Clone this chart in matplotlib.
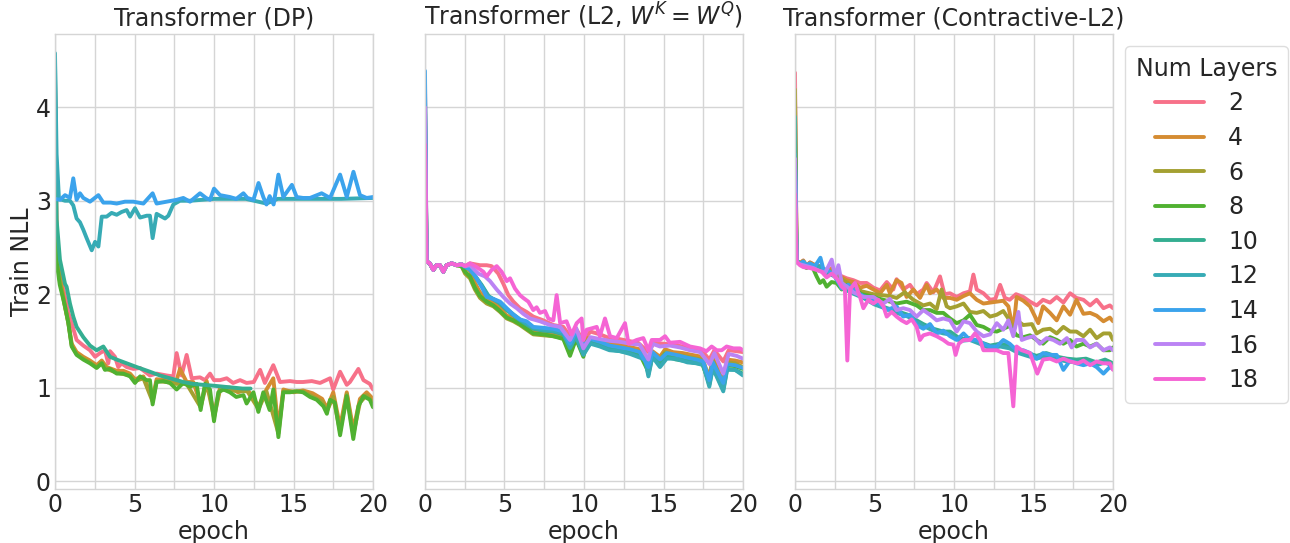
import numpy as np
import matplotlib
matplotlib.use("Agg")
import matplotlib.pyplot as plt
from matplotlib.ticker import MultipleLocator
import seaborn as sns

# ---------------- data (epoch, train NLL) ----------------
layers = [2, 4, 6, 8, 10, 12, 14, 16, 18]
titles = ["Transformer (DP)", r"Transformer (L2, $W^K = W^Q$)", "Transformer (Contractive-L2)"]

# Panel 1: Transformer (DP)
dp_2 = [[0,4.30],[0.1,2.6],[0.3,2.25],[0.63,1.97],[0.73,1.90],[0.84,1.80],[1.05,1.69],[1.36,1.51],[1.78,1.45],[2.2,1.40],[2.52,1.33],[2.83,1.37],[3.14,1.40],[3.35,1.26],[3.46,1.39],[3.77,1.33],[3.98,1.22],[4.19,1.26],[4.51,1.22],[4.93,1.20],[5.35,1.21],[5.97,1.13],[6.39,1.15],[7.02,1.13],[7.44,1.12],[7.65,1.37],[7.96,1.13],[8.28,1.35],[8.6,1.10],[9.12,1.11],[9.43,1.08],[9.75,1.15],[10.0,1.08],[10.38,1.08],[10.8,1.10],[11.2,1.05],[11.64,1.08],[12.05,1.05],[12.5,1.06],[12.9,1.19],[13.2,1.05],[13.73,1.24],[14.15,1.06],[14.78,1.07],[15.2,1.06],[15.6,1.06],[16.15,1.07],[16.67,1.05],[17.3,1.10],[17.5,0.98],[17.93,1.17],[18.35,1.03],[18.55,1.06],[19.08,1.20],[19.4,1.08],[19.8,1.04],[20,0.98]]
dp_4 = [[0,4.37],[0.1,2.45],[0.3,2.2],[0.63,1.87],[0.84,1.70],[1.05,1.47],[1.36,1.38],[1.78,1.33],[2.2,1.29],[2.62,1.24],[2.94,1.29],[3.25,1.22],[3.88,1.18],[4.3,1.18],[4.72,1.15],[5.03,1.09],[5.56,1.12],[6.14,0.88],[6.39,1.09],[7.02,1.08],[7.65,1.08],[7.86,1.20],[8.28,1.06],[8.7,1.06],[9.16,0.82],[9.54,1.07],[10.0,0.72],[10.38,1.00],[11.0,1.00],[11.5,0.95],[12.1,0.98],[12.8,0.80],[13.3,0.98],[13.73,1.10],[14.05,0.56],[14.36,0.98],[15.0,0.95],[15.6,0.97],[16.2,0.94],[16.8,0.88],[17.1,0.78],[17.5,0.95],[17.93,0.58],[18.35,0.95],[18.76,0.55],[19.18,0.88],[19.6,0.95],[20,0.88]]
dp_6 = [[0,4.20],[0.1,2.40],[0.3,2.15],[0.63,1.86],[0.84,1.69],[1.05,1.45],[1.36,1.36],[1.78,1.31],[2.2,1.27],[2.62,1.22],[2.94,1.27],[3.25,1.20],[3.88,1.16],[4.72,1.13],[5.03,1.07],[5.56,1.10],[6.14,0.85],[6.39,1.07],[7.02,1.06],[7.65,1.04],[8.28,1.04],[9.16,0.79],[9.54,1.05],[10.0,0.68],[10.38,0.98],[11.0,0.97],[12.1,0.96],[12.8,0.77],[13.3,0.96],[14.05,0.51],[14.36,0.96],[15.6,0.96],[16.8,0.85],[17.1,0.75],[17.5,0.90],[17.93,0.53],[18.35,0.93],[18.76,0.50],[19.18,0.84],[19.6,0.92],[20,0.84]]
dp_8 = [[0,3.69],[0.1,2.35],[0.3,2.1],[0.63,1.87],[0.84,1.69],[1.05,1.44],[1.36,1.35],[1.78,1.30],[2.2,1.26],[2.62,1.21],[2.94,1.26],[3.14,1.19],[3.46,1.20],[3.88,1.15],[4.3,1.15],[4.72,1.12],[5.03,1.05],[5.35,1.12],[5.77,1.08],[5.97,1.08],[6.14,0.82],[6.39,1.06],[6.81,1.07],[7.23,1.05],[7.65,0.98],[8.07,1.05],[8.49,1.01],[8.91,1.04],[9.16,0.76],[9.43,1.04],[9.75,0.98],[10.0,0.64],[10.27,0.95],[10.6,0.98],[11.0,0.95],[11.4,0.90],[11.85,0.92],[12.05,0.83],[12.48,0.95],[12.79,0.74],[13.1,0.95],[13.5,0.76],[13.73,0.98],[14.05,0.47],[14.36,0.95],[14.78,0.95],[15.2,0.96],[15.6,0.95],[16.04,0.90],[16.46,0.87],[16.88,0.80],[17.1,0.72],[17.3,0.87],[17.6,0.84],[17.93,0.49],[18.35,0.91],[18.76,0.45],[19.08,0.80],[19.4,0.91],[19.8,0.87],[20,0.79]]
dp_10 = [[0,4.50],[0.1,2.8],[0.31,2.37],[0.63,2.11],[0.73,2.08],[0.94,1.90],[1.15,1.76],[1.36,1.65],[1.78,1.54],[2.2,1.45],[2.62,1.40],[3.04,1.44],[3.46,1.33],[3.88,1.30],[4.51,1.26],[5.14,1.22],[5.97,1.17],[6.6,1.13],[7.23,1.10],[8.07,1.06],[8.7,1.04],[9.3,1.03],[10.0,1.02],[10.6,1.01],[11.2,1.00],[11.8,0.99],[12.3,0.99]]
dp_12 = [[0,4.58],[0.1,3.5],[0.25,3.02],[0.63,3.0],[0.94,3.0],[1.15,2.95],[1.36,2.81],[1.57,2.77],[1.78,2.69],[1.99,2.60],[2.31,2.47],[2.52,2.56],[2.73,2.51],[2.94,2.83],[3.25,2.83],[3.56,2.87],[3.88,2.85],[4.19,2.88],[4.51,2.90],[4.72,2.83],[5.03,2.92],[5.35,2.82],[5.77,2.84],[5.97,2.84],[6.14,2.60],[6.39,2.86],[6.92,2.81],[7.13,2.84],[7.44,2.96],[7.86,3.00],[8.5,3.00],[10,3.02],[12,3.02],[13.3,2.97],[14,3.02],[16,3.02],[18,3.02],[20,3.03]]
dp_14 = [[0,3.02],[0.31,3.01],[0.63,3.06],[0.94,3.03],[1.15,3.24],[1.36,3.01],[1.57,3.08],[1.78,3.03],[2.2,2.99],[2.73,3.06],[3.04,2.98],[3.5,2.98],[3.88,2.97],[4.4,2.99],[4.93,2.99],[5.56,2.97],[6.14,3.08],[6.39,2.97],[7.02,2.99],[7.65,3.01],[8.07,3.03],[8.49,2.99],[9.12,3.08],[9.5,3.03],[9.75,3.01],[10.0,3.13],[10.38,3.06],[11.0,3.04],[11.4,3.02],[11.85,3.08],[12.1,3.03],[12.48,3.01],[12.8,3.19],[13.1,3.04],[13.3,2.96],[13.5,3.05],[13.75,2.96],[14.05,3.28],[14.36,3.04],[14.9,3.17],[15.2,3.04],[15.6,3.03],[16.04,3.03],[16.77,3.08],[17.3,3.03],[17.93,3.28],[18.35,3.04],[18.77,3.31],[19.18,3.06],[19.6,3.03],[20,3.04]]

# Panel 2: Transformer (L2, W^K = W^Q)
l2_2 = [[0,4.30],[0.1,2.35],[0.3,2.33],[0.52,2.26],[0.73,2.31],[0.94,2.31],[1.15,2.24],[1.36,2.31],[1.68,2.33],[1.99,2.31],[2.3,2.32],[2.52,2.30],[2.83,2.33],[3.46,2.31],[3.88,2.31],[4.19,2.30],[4.61,2.22],[4.93,2.11],[5.24,1.99],[5.56,1.92],[5.97,1.85],[6.39,1.81],[6.81,1.76],[7.44,1.72],[8.07,1.67],[8.7,1.65],[9.12,1.55],[9.5,1.63],[9.96,1.50],[10.4,1.60],[11.0,1.57],[11.6,1.53],[12.2,1.52],[12.8,1.50],[13.4,1.48],[14.05,1.38],[14.4,1.48],[15.0,1.47],[15.6,1.46],[16.2,1.44],[16.8,1.42],[17.4,1.40],[17.88,1.30],[18.2,1.40],[18.76,1.28],[19.1,1.40],[19.6,1.39],[20,1.38]]
l2_4 = [[0,4.10],[0.1,2.35],[0.3,2.33],[0.52,2.26],[0.73,2.31],[0.94,2.31],[1.15,2.24],[1.36,2.31],[1.68,2.33],[1.99,2.31],[2.3,2.32],[2.52,2.28],[2.83,2.25],[3.14,2.12],[3.46,2.02],[3.88,1.95],[4.3,1.92],[4.72,1.86],[5.14,1.77],[5.56,1.75],[5.97,1.70],[6.39,1.66],[6.81,1.61],[7.44,1.60],[8.07,1.58],[8.7,1.56],[9.12,1.40],[9.5,1.56],[9.96,1.39],[10.2,1.53],[10.6,1.51],[11.0,1.49],[11.5,1.48],[12.0,1.46],[12.5,1.45],[13.0,1.43],[13.5,1.41],[14.05,1.23],[14.3,1.39],[14.78,1.33],[15.1,1.41],[15.6,1.38],[16.2,1.37],[16.8,1.35],[17.4,1.33],[17.88,1.11],[18.1,1.32],[18.76,1.06],[19.0,1.30],[19.5,1.29],[20,1.27]]
l2_6 = [[0,3.90],[0.1,2.35],[0.3,2.33],[0.52,2.26],[0.73,2.31],[0.94,2.31],[1.15,2.24],[1.36,2.31],[1.68,2.33],[1.99,2.31],[2.3,2.30],[2.52,2.22],[2.83,2.17],[3.14,2.05],[3.46,1.96],[3.88,1.90],[4.3,1.87],[4.72,1.81],[5.14,1.74],[5.56,1.71],[5.97,1.67],[6.39,1.62],[6.81,1.57],[7.44,1.56],[8.07,1.55],[8.7,1.53],[9.12,1.37],[9.5,1.53],[9.96,1.36],[10.2,1.50],[10.6,1.48],[11.0,1.46],[11.5,1.45],[12.0,1.43],[12.5,1.42],[13.0,1.40],[13.5,1.38],[14.05,1.20],[14.3,1.36],[14.78,1.30],[15.1,1.38],[15.6,1.35],[16.2,1.34],[16.8,1.32],[17.4,1.30],[17.88,1.08],[18.1,1.29],[18.76,1.03],[19.0,1.27],[19.5,1.26],[20,1.22]]
l2_8 = [[0,3.80],[0.1,2.35],[0.3,2.33],[0.52,2.26],[0.73,2.31],[0.94,2.31],[1.15,2.24],[1.36,2.31],[1.68,2.33],[1.99,2.31],[2.3,2.30],[2.52,2.24],[2.83,2.19],[3.14,2.07],[3.46,1.98],[3.88,1.92],[4.3,1.88],[4.72,1.82],[5.14,1.75],[5.56,1.72],[5.97,1.68],[6.39,1.63],[6.81,1.58],[7.44,1.57],[8.07,1.55],[8.7,1.52],[9.12,1.34],[9.5,1.52],[9.96,1.33],[10.2,1.49],[10.6,1.47],[11.0,1.45],[11.5,1.44],[12.0,1.42],[12.5,1.40],[13.0,1.38],[13.5,1.36],[14.05,1.17],[14.3,1.34],[14.78,1.28],[15.1,1.36],[15.6,1.33],[16.2,1.31],[16.8,1.29],[17.4,1.27],[17.88,1.05],[18.1,1.26],[18.76,1.00],[19.0,1.24],[19.5,1.23],[20,1.20]]
l2_10 = [[0,4.00],[0.1,2.35],[0.3,2.33],[0.52,2.26],[0.73,2.31],[0.94,2.31],[1.15,2.24],[1.36,2.31],[1.68,2.33],[1.99,2.31],[2.3,2.32],[2.52,2.29],[2.83,2.27],[3.56,2.10],[4.0,1.98],[4.72,1.90],[5.14,1.83],[5.97,1.72],[6.81,1.63],[7.44,1.61],[8.07,1.60],[8.7,1.57],[9.12,1.42],[9.5,1.55],[9.96,1.36],[10.4,1.48],[11.0,1.45],[11.6,1.41],[12.27,1.39],[12.9,1.37],[13.84,1.31],[14.05,1.14],[14.3,1.34],[14.78,1.24],[15.2,1.33],[15.8,1.30],[16.5,1.28],[17.1,1.26],[17.5,1.25],[17.88,1.03],[18.1,1.22],[18.76,0.98],[19.0,1.20],[19.5,1.19],[20,1.15]]
l2_12 = [[0,4.20],[0.1,2.35],[0.3,2.33],[0.52,2.26],[0.73,2.31],[0.94,2.31],[1.15,2.24],[1.36,2.31],[1.68,2.33],[1.99,2.31],[2.3,2.32],[2.52,2.29],[2.83,2.27],[3.56,2.09],[4.0,1.97],[4.72,1.91],[5.14,1.84],[5.97,1.73],[6.81,1.64],[7.44,1.62],[8.07,1.61],[8.7,1.58],[9.12,1.43],[9.5,1.55],[9.96,1.35],[10.4,1.47],[11.0,1.44],[11.6,1.40],[12.27,1.39],[12.9,1.36],[13.84,1.30],[14.05,1.12],[14.3,1.33],[14.78,1.22],[15.2,1.31],[15.8,1.31],[16.5,1.27],[17.1,1.26],[17.5,1.24],[17.88,1.01],[18.1,1.21],[18.76,0.96],[19.0,1.19],[19.5,1.19],[20,1.13]]
l2_14 = [[0,4.39],[0.1,2.35],[0.3,2.33],[0.52,2.26],[0.73,2.31],[0.94,2.31],[1.15,2.24],[1.36,2.31],[1.68,2.33],[1.99,2.31],[2.3,2.32],[2.52,2.30],[2.83,2.26],[3.14,2.20],[3.56,2.08],[3.88,1.97],[4.3,1.95],[4.72,1.92],[5.14,1.85],[5.56,1.78],[5.97,1.73],[6.39,1.71],[6.81,1.65],[7.44,1.64],[8.07,1.63],[8.7,1.60],[9.12,1.47],[9.5,1.60],[9.96,1.45],[10.4,1.52],[11.0,1.49],[11.6,1.45],[12.27,1.43],[12.9,1.41],[13.5,1.38],[14.05,1.22],[14.3,1.38],[14.78,1.30],[15.2,1.37],[15.8,1.35],[16.5,1.32],[17.1,1.30],[17.5,1.28],[17.88,1.08],[18.1,1.27],[18.76,1.05],[19.0,1.25],[19.5,1.24],[20,1.21]]
l2_16 = [[0,4.00],[0.1,2.35],[0.3,2.33],[0.52,2.26],[0.73,2.31],[0.94,2.31],[1.15,2.24],[1.36,2.31],[1.68,2.33],[1.99,2.31],[2.3,2.32],[2.52,2.30],[2.83,2.31],[3.35,2.22],[3.77,2.19],[4.09,2.14],[4.51,2.05],[4.93,1.97],[5.35,1.90],[5.77,1.85],[6.18,1.79],[6.6,1.74],[7.23,1.71],[7.86,1.67],[8.5,1.65],[9.12,1.51],[9.5,1.64],[9.96,1.42],[10.4,1.54],[11.0,1.52],[11.64,1.50],[12.27,1.49],[12.9,1.47],[13.5,1.46],[14.05,1.30],[14.3,1.47],[14.78,1.44],[15.4,1.45],[16.04,1.43],[16.67,1.40],[17.3,1.38],[17.9,1.25],[18.2,1.37],[18.76,1.15],[19.1,1.36],[19.6,1.34],[20,1.31]]
l2_18 = [[0,3.60],[0.1,2.35],[0.3,2.33],[0.52,2.26],[0.73,2.31],[0.94,2.31],[1.15,2.24],[1.36,2.31],[1.68,2.33],[1.99,2.31],[2.3,2.32],[2.52,2.30],[2.83,2.33],[3.25,2.29],[3.67,2.24],[3.88,2.19],[4.19,2.26],[4.51,2.30],[4.82,2.24],[5.14,2.14],[5.35,2.17],[5.66,2.06],[5.97,1.99],[6.18,1.96],[6.5,1.92],[6.81,1.83],[7.02,1.86],[7.23,1.80],[7.55,1.82],[7.76,1.74],[8.07,1.72],[8.28,1.99],[8.5,1.69],[8.9,1.71],[9.22,1.57],[9.54,1.69],[9.85,1.74],[9.96,1.51],[10.17,1.62],[10.6,1.64],[10.8,1.65],[11.0,1.55],[11.32,1.74],[11.64,1.55],[12.06,1.53],[12.58,1.69],[12.8,1.47],[13.31,1.51],[13.73,1.53],[14.05,1.40],[14.26,1.51],[14.78,1.51],[15.1,1.55],[15.4,1.48],[16.04,1.49],[16.67,1.44],[17.3,1.42],[17.7,1.39],[18.03,1.44],[18.35,1.40],[18.66,1.40],[18.97,1.44],[19.4,1.42],[19.81,1.42],[20,1.40]]

# Panel 3: Transformer (Contractive-L2)
c_2 = [[0,4.37],[0.1,2.36],[0.31,2.33],[0.52,2.36],[0.73,2.30],[0.94,2.34],[1.26,2.31],[1.57,2.30],[1.99,2.25],[2.3,2.28],[2.62,2.22],[2.83,2.20],[3.25,2.17],[3.67,2.15],[4.09,2.12],[4.51,2.12],[4.93,2.07],[5.35,2.04],[5.77,2.13],[6.18,2.05],[6.39,2.16],[6.81,2.05],[7.23,2.10],[7.65,2.00],[8.07,2.05],[8.28,2.12],[8.7,2.02],[9.12,2.19],[9.4,2.00],[9.75,2.01],[10.17,1.97],[10.6,2.01],[11.0,2.03],[11.22,2.21],[11.43,2.05],[11.85,2.01],[12.27,1.94],[12.6,1.95],[12.9,2.10],[13.2,1.96],[13.5,1.94],[13.9,2.00],[14.36,1.97],[14.78,1.92],[15.2,1.88],[15.6,1.94],[16.04,1.91],[16.46,1.97],[16.88,1.91],[17.3,2.01],[17.7,1.96],[18.14,1.94],[18.56,1.88],[18.97,1.94],[19.4,1.85],[19.8,1.88],[20,1.85]]
c_4 = [[0,4.10],[0.1,2.36],[0.31,2.33],[0.52,2.36],[0.73,2.30],[0.94,2.34],[1.26,2.31],[1.57,2.28],[1.99,2.24],[2.3,2.27],[2.62,2.21],[2.83,2.19],[3.25,2.15],[3.67,2.13],[4.09,2.07],[4.51,2.09],[4.93,2.05],[5.35,2.01],[5.77,2.10],[5.97,2.01],[6.39,2.15],[6.7,2.12],[7.02,1.97],[7.44,2.05],[7.86,1.96],[8.28,2.10],[8.49,2.01],[8.91,2.05],[9.33,1.96],[9.75,1.96],[10.17,1.94],[10.6,1.98],[11.0,2.01],[11.43,1.94],[11.85,1.90],[12.27,1.91],[12.69,1.92],[13.1,1.93],[13.42,1.87],[13.73,1.61],[13.94,1.97],[14.36,1.93],[14.78,1.87],[15.3,1.69],[15.6,1.87],[16.04,1.80],[16.46,1.72],[16.88,1.87],[17.3,1.78],[17.7,1.94],[18.14,1.79],[18.56,1.80],[18.97,1.77],[19.4,1.71],[19.8,1.75],[20,1.71]]
c_6 = [[0,4.19],[0.1,2.36],[0.31,2.33],[0.52,2.35],[0.73,2.30],[0.94,2.33],[1.26,2.30],[1.57,2.26],[1.99,2.22],[2.3,2.25],[2.62,2.20],[2.83,2.17],[3.5,2.10],[4.2,2.03],[4.93,2.00],[5.97,1.98],[6.39,1.96],[6.9,2.02],[7.44,1.94],[8.07,1.88],[8.49,1.90],[8.91,1.84],[9.22,2.05],[9.54,1.87],[9.75,1.85],[10.17,1.87],[10.6,1.90],[11.0,1.81],[11.43,1.80],[11.85,1.82],[12.27,1.76],[12.69,1.78],[13.1,1.82],[13.42,1.74],[13.73,1.61],[13.94,1.72],[14.36,1.67],[14.9,1.68],[15.2,1.58],[15.6,1.62],[16.04,1.63],[16.46,1.58],[16.88,1.65],[17.3,1.60],[17.7,1.60],[18.14,1.55],[18.56,1.62],[18.97,1.53],[19.4,1.58],[19.8,1.58],[20,1.51]]
c_8 = [[0,3.67],[0.1,2.35],[0.31,2.33],[0.52,2.30],[0.73,2.28],[0.94,2.31],[1.15,2.27],[1.36,2.19],[1.57,2.12],[1.78,2.15],[1.99,2.08],[2.3,2.13],[2.62,2.12],[2.94,2.05],[3.25,2.10],[3.67,2.06],[4.19,2.00],[4.72,1.98],[5.56,1.94],[6.39,1.90],[7.02,1.92],[7.65,1.88],[8.07,1.83],[8.49,1.83],[8.91,1.80],[9.33,1.80],[9.75,1.74],[10.17,1.69],[10.6,1.72],[11.0,1.78],[11.43,1.67],[11.85,1.65],[12.27,1.61],[12.69,1.60],[13.1,1.63],[13.5,1.66],[13.94,1.56],[14.36,1.54],[14.78,1.56],[15.2,1.51],[15.6,1.47],[16.04,1.54],[16.46,1.51],[16.88,1.47],[17.3,1.51],[17.7,1.44],[18.14,1.47],[18.56,1.44],[18.97,1.47],[19.4,1.40],[19.8,1.40],[20,1.43]]
c_10 = [[0,3.90],[0.1,2.35],[0.31,2.33],[0.52,2.34],[0.73,2.30],[0.94,2.32],[1.26,2.29],[1.6,2.30],[1.99,2.24],[2.5,2.20],[2.94,2.08],[3.6,2.02],[4.3,1.97],[5.0,1.90],[5.8,1.85],[6.39,1.82],[7.1,1.78],[7.65,1.72],[8.07,1.68],[8.7,1.63],[9.33,1.60],[9.75,1.60],[10.4,1.52],[11.0,1.53],[11.6,1.49],[12.27,1.45],[12.9,1.47],[13.5,1.45],[14.05,1.40],[14.6,1.37],[15.2,1.34],[15.8,1.37],[16.5,1.33],[17.1,1.31],[17.7,1.30],[18.3,1.31],[18.97,1.27],[19.5,1.30],[20,1.26]]
c_12 = [[0,3.50],[0.1,2.35],[0.31,2.33],[0.52,2.34],[0.73,2.30],[0.94,2.32],[1.26,2.29],[1.6,2.29],[1.99,2.23],[2.5,2.19],[2.94,2.07],[3.6,2.01],[4.3,1.96],[5.0,1.89],[5.8,1.84],[6.39,1.80],[7.1,1.76],[7.65,1.70],[8.07,1.66],[8.7,1.61],[9.33,1.58],[9.75,1.57],[10.4,1.50],[11.0,1.51],[11.6,1.47],[12.27,1.42],[12.9,1.44],[13.5,1.42],[14.05,1.37],[14.6,1.34],[15.2,1.31],[15.8,1.34],[16.5,1.30],[17.1,1.28],[17.7,1.27],[18.3,1.28],[18.97,1.24],[19.5,1.27],[20,1.23]]
c_14 = [[0,3.40],[0.1,2.36],[0.31,2.32],[0.52,2.35],[0.73,2.31],[0.94,2.33],[1.26,2.30],[1.6,2.39],[1.78,2.27],[2.1,2.25],[2.5,2.20],[2.94,2.06],[3.35,2.10],[3.88,2.02],[4.3,1.98],[4.72,1.96],[5.14,1.92],[5.77,1.83],[6.39,1.87],[6.8,1.76],[7.23,1.78],[7.65,1.67],[8.07,1.63],[8.49,1.68],[8.91,1.58],[9.33,1.61],[9.75,1.55],[10.17,1.51],[10.6,1.58],[11.0,1.51],[11.43,1.51],[11.85,1.47],[12.27,1.44],[12.69,1.44],[13.1,1.51],[13.5,1.47],[13.94,1.40],[14.36,1.40],[14.78,1.37],[15.2,1.31],[15.6,1.37],[16.04,1.35],[16.46,1.35],[16.88,1.19],[17.3,1.29],[17.7,1.26],[18.14,1.24],[18.56,1.26],[18.97,1.22],[19.4,1.15],[19.8,1.22],[20,1.20]]
c_16 = [[0,3.45],[0.1,2.34],[0.31,2.32],[0.73,2.30],[1.15,2.28],[1.5,2.25],[1.9,2.23],[2.31,2.37],[2.52,2.18],[2.73,2.31],[2.94,2.12],[3.35,2.07],[3.67,2.02],[4.3,1.97],[4.93,1.97],[5.56,1.90],[5.97,1.95],[6.39,1.83],[6.81,1.85],[7.23,1.83],[7.65,1.76],[8.07,1.83],[8.49,1.78],[8.91,1.72],[9.33,1.74],[9.75,1.72],[10.17,1.60],[10.6,1.71],[11.0,1.69],[11.43,1.60],[11.85,1.55],[12.27,1.57],[12.69,1.69],[13.1,1.62],[13.42,1.72],[13.73,1.55],[14.05,1.81],[14.26,1.51],[14.57,1.53],[14.99,1.55],[15.4,1.47],[15.83,1.53],[16.25,1.51],[16.67,1.47],[17.1,1.53],[17.4,1.43],[17.7,1.51],[18.14,1.51],[18.56,1.43],[18.97,1.47],[19.4,1.40],[19.8,1.43],[20,1.40]]
c_18 = [[0,3.07],[0.1,2.35],[0.31,2.31],[0.52,2.29],[0.94,2.28],[1.36,2.26],[1.68,2.24],[1.99,2.18],[2.31,2.22],[2.62,2.17],[2.94,2.08],[3.14,2.05],[3.29,1.29],[3.46,2.05],[3.77,2.12],[4.09,1.97],[4.3,1.85],[4.61,1.94],[4.93,1.90],[5.24,1.94],[5.56,1.87],[5.77,1.76],[6.08,1.81],[6.39,1.76],[6.7,1.72],[7.02,1.69],[7.34,1.73],[7.65,1.65],[7.86,1.51],[8.07,1.56],[8.49,1.58],[8.91,1.55],[9.33,1.51],[9.65,1.47],[9.96,1.46],[10.1,1.35],[10.3,1.47],[10.6,1.51],[11.0,1.51],[11.32,1.58],[11.64,1.51],[11.85,1.40],[12.27,1.40],[12.69,1.40],[13.1,1.37],[13.42,1.37],[13.73,0.80],[13.94,1.44],[14.26,1.40],[14.78,1.37],[15.24,1.15],[15.6,1.30],[16.04,1.31],[16.46,1.28],[16.88,1.31],[17.3,1.28],[17.8,1.26],[18.14,1.29],[18.56,1.24],[18.97,1.28],[19.4,1.26],[19.8,1.26],[20,1.19]]

panel_series = [
    {2: dp_2, 4: dp_4, 6: dp_6, 8: dp_8, 10: dp_10, 12: dp_12, 14: dp_14},
    {2: l2_2, 4: l2_4, 6: l2_6, 8: l2_8, 10: l2_10, 12: l2_12, 14: l2_14, 16: l2_16, 18: l2_18},
    {2: c_2, 4: c_4, 6: c_6, 8: c_8, 10: c_10, 12: c_12, 14: c_14, 16: c_16, 18: c_18},
]

# ---------------- style ----------------
sns.set_style("whitegrid")
plt.rcParams['font.family'] = ['DejaVu Sans']
palette = sns.color_palette("husl", len(layers))
FS = 17
text_col = "#262626"
LW = 2.8

fig = plt.figure(figsize=(12.9, 5.43), dpi=100)
lefts = [55 / 1290, 425 / 1290, 795 / 1290]
width = 318 / 1290
bottom = 1 - 489 / 543
height = (489 - 33.5) / 543

axes = []
for i, ttl in enumerate(titles):
    ax = fig.add_axes([lefts[i], bottom, width, height])
    axes.append(ax)
    for j, L in enumerate(layers):
        if L in panel_series[i]:
            arr = np.array(panel_series[i][L], dtype=float)
            ax.plot(arr[:, 0], arr[:, 1], color=palette[j], lw=LW, label=str(L))
    ax.set_xlim(0, 20)
    ax.set_ylim(-0.085, 4.79)
    ax.xaxis.set_major_locator(MultipleLocator(5))
    ax.xaxis.set_minor_locator(MultipleLocator(2.5))
    ax.yaxis.set_major_locator(MultipleLocator(1))
    ax.grid(True, which='both', color='#d5d5d5', lw=1.0)
    ax.tick_params(axis='both', which='both', length=0, labelsize=FS, colors=text_col, pad=3)
    for sp in ax.spines.values():
        sp.set_color('#d5d5d5')
        sp.set_linewidth(1.0)
    ax.set_title(ttl, fontsize=FS, color=text_col, pad=6)
    ax.set_xlabel("epoch", fontsize=FS, color=text_col, labelpad=2)
    if i == 0:
        ax.set_ylabel("Train NLL", fontsize=FS, color=text_col, labelpad=1)
    else:
        ax.tick_params(axis='y', labelleft=False)

handles, labels = axes[1].get_legend_handles_labels()
leg = fig.legend(handles, labels, title="Num Layers", loc='upper left',
                 bbox_to_anchor=(1125 / 1290, 1 - 46 / 543), bbox_transform=fig.transFigure,
                 borderaxespad=0, fontsize=FS, title_fontsize=FS, frameon=True,
                 handlelength=2.1, labelspacing=0.45, borderpad=0.45, handletextpad=1.0)
leg.get_frame().set_edgecolor('#d5d5d5')
for t in leg.get_texts():
    t.set_color(text_col)
leg.get_title().set_color(text_col)
for ln in leg.get_lines():
    ln.set_linewidth(2.8)

fig.savefig("out.png", dpi=100)
